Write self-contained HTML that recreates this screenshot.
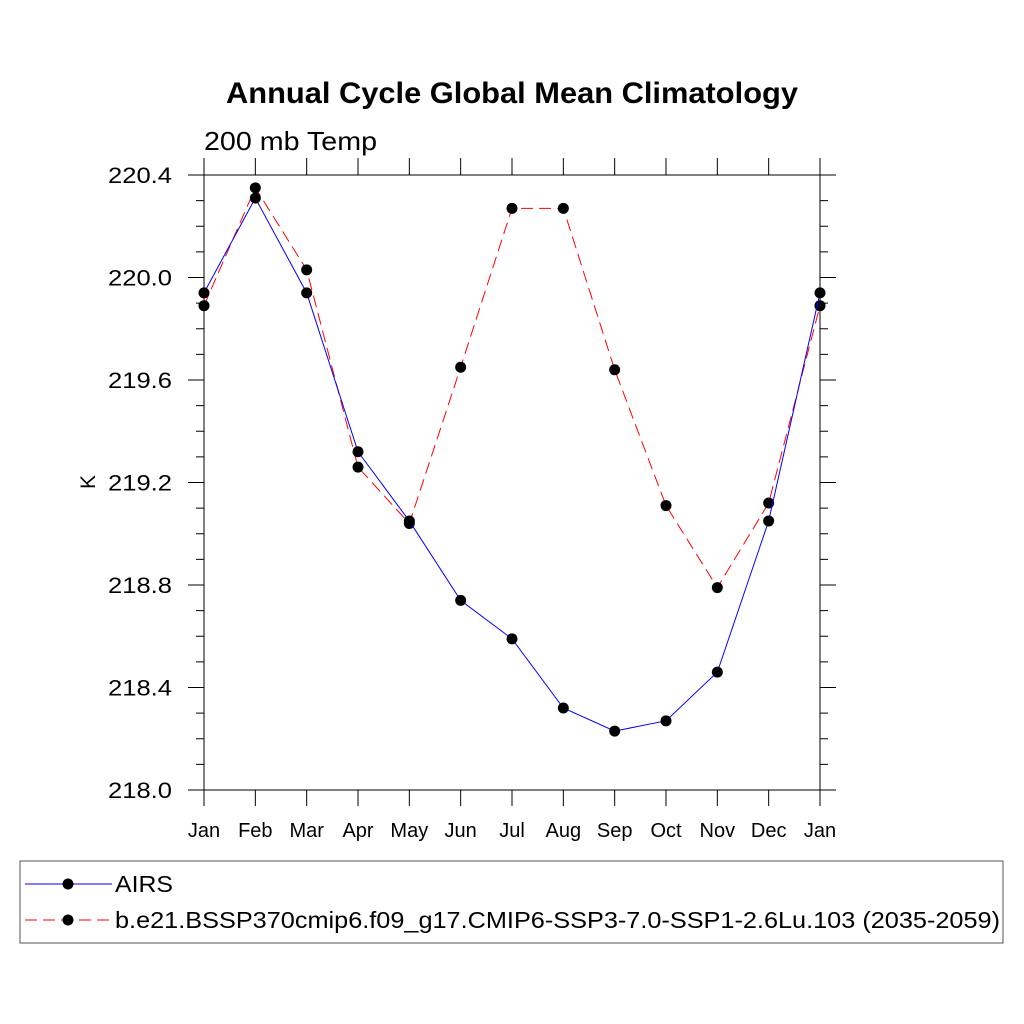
<!DOCTYPE html>
<html><head><meta charset="utf-8"><style>
body{margin:0;background:#fff}
svg{display:block;font-family:"Liberation Sans",sans-serif}
</style></head><body>
<svg id="c" width="1024" height="1024" viewBox="0 0 1024 1024">
<text x="512" y="103" text-anchor="middle" font-size="30" font-weight="bold" textLength="572" lengthAdjust="spacingAndGlyphs">Annual Cycle Global Mean Climatology</text>
<text x="204" y="150" font-size="26" textLength="173" lengthAdjust="spacingAndGlyphs">200 mb Temp</text>
<text transform="translate(95,482) rotate(-90)" text-anchor="middle" font-size="21">K</text>
<g id="axes"></g>
<g id="series"></g>
<rect x="20" y="861" width="983" height="82" fill="none" stroke="#555" stroke-width="1"/>
<g>
<line x1="25" y1="884" x2="112" y2="884" stroke="blue" stroke-width="1"/>
<circle cx="68" cy="884" r="5.5" fill="#000"/>
<text x="115" y="892" font-size="23" textLength="58" lengthAdjust="spacingAndGlyphs">AIRS</text></g>
<g>
<line x1="25" y1="920" x2="112" y2="920" stroke="red" stroke-width="1" stroke-dasharray="12,6"/>
<circle cx="68" cy="920" r="5.5" fill="#000"/>
<text x="115" y="928" font-size="23" textLength="885" lengthAdjust="spacingAndGlyphs">b.e21.BSSP370cmip6.f09_g17.CMIP6-SSP3-7.0-SSP1-2.6Lu.103 (2035-2059)</text></g>
</svg>
<script>
const months=["Jan","Feb","Mar","Apr","May","Jun","Jul","Aug","Sep","Oct","Nov","Dec","Jan"];
const airs=[219.94,220.31,219.94,219.32,219.05,218.74,218.59,218.32,218.23,218.27,218.46,219.05,219.94];
const model=[219.89,220.35,220.03,219.26,219.04,219.65,220.27,220.27,219.64,219.11,218.79,219.12,219.89];
const yTicks=[218.0,218.4,218.8,219.2,219.6,220.0,220.4];
const L=204,R=820,T=175,B=790,yMin=218.0,yMax=220.4;
const X=i=>L+(R-L)*i/(months.length-1);
const Y=v=>B-(v-yMin)/(yMax-yMin)*(B-T);
const NS="http://www.w3.org/2000/svg";
function mk(t,a,p){const e=document.createElementNS(NS,t);for(const k in a)e.setAttribute(k,a[k]);p.appendChild(e);return e;}
const ax=document.getElementById('axes');
let e;
e=mk('line',{x1:188,y1:T,x2:836,y2:T,stroke:'#000'},ax);


e=mk('line',{x1:188,y1:B,x2:836,y2:B,stroke:'#000'},ax);


e=mk('line',{x1:L,y1:158,x2:L,y2:806,stroke:'#000'},ax);


e=mk('line',{x1:R,y1:158,x2:R,y2:806,stroke:'#000'},ax);


months.forEach((m,i)=>{const x=X(i);
 mk('line',{x1:x,y1:B,x2:x,y2:806,stroke:'#000'},ax);
 mk('line',{x1:x,y1:T,x2:x,y2:158,stroke:'#000'},ax);
 const t=mk('text',{x:x,y:837,'text-anchor':'middle','font-size':20},ax);t.textContent=m;
 
 
});
for(let v=yMin;v<=yMax+1e-6;v+=0.1){const y=Y(v);
 mk('line',{x1:L-8,y1:y,x2:L,y2:y,stroke:'#000'},ax);
 mk('line',{x1:R,y1:y,x2:R+8,y2:y,stroke:'#000'},ax);}
yTicks.forEach(v=>{const y=Y(v);
 mk('line',{x1:188,y1:y,x2:L,y2:y,stroke:'#000'},ax);
 mk('line',{x1:R,y1:y,x2:836,y2:y,stroke:'#000'},ax);
 const t=mk('text',{x:172,y:y+8,'text-anchor':'end','font-size':22,textLength:64,lengthAdjust:'spacingAndGlyphs'},ax);t.textContent=v.toFixed(1);
 
 
});
const sg=document.getElementById('series');
function series(d,col,dash,name){
 const g=mk('g',{},sg);
 
 
 const p=mk('polyline',{points:d.map((v,i)=>X(i)+','+Y(v)).join(' '),fill:'none',stroke:col,'stroke-width':1},g);
 if(dash)p.setAttribute('stroke-dasharray',dash);
 d.forEach((v,i)=>{const c=mk('circle',{cx:X(i),cy:Y(v),r:5.5,fill:'#000'},g);
  
  });
}
series(model,'red','12,6','model-series');
series(airs,'blue',null,'airs-series');
</script>
</body></html>
